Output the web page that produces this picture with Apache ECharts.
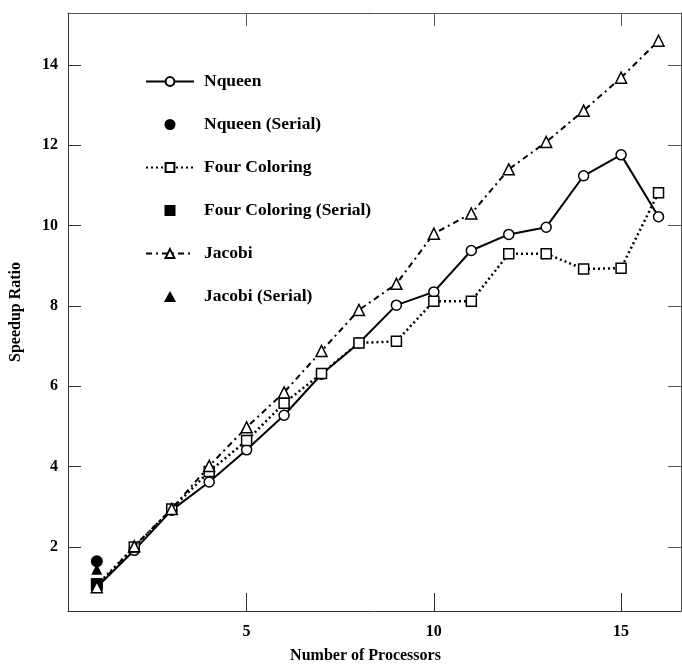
<!DOCTYPE html>
<html>
<head>
<meta charset="utf-8">
<script src="https://cdn.jsdelivr.net/npm/echarts@6/dist/echarts.min.js"></script>
<style>
  html, body { margin: 0; padding: 0; background: #fff; }
  #main { width: 682px; height: 664px; }
</style>
</head>
<body>
<div id="main"></div>
<script>
// processors on x, speedup on y
const processors = [1, 2, 3, 4, 5, 6, 7, 8, 9, 10, 11, 12, 13, 14, 15, 16];
const nqueen = [1.0, 1.92, 2.92, 3.62, 4.42, 5.28, 6.3, 7.08, 8.02, 8.35, 9.38, 9.78, 9.96, 11.24, 11.76, 10.22];
const fourColoring = [1.05, 2.0, 2.95, 3.88, 4.65, 5.58, 6.32, 7.08, 7.12, 8.12, 8.12, 9.3, 9.3, 8.92, 8.94, 10.82];
const jacobi = [1.0, 2.02, 2.95, 4.02, 4.98, 5.85, 6.88, 7.9, 8.55, 9.8, 10.3, 11.4, 12.08, 12.86, 13.68, 14.6];
const nqueenSerial = [[1, 1.65]];
const fourColoringSerial = [[1, 1.08]];
const jacobiSerial = [[1, 1.45]];
const xTicks = [5, 10, 15];
const yTicks = [2, 4, 6, 8, 10, 12, 14];

const font = 'Liberation Serif';
const pairs = ys => processors.map((x, i) => [x, ys[i]]);

// keep-aspect icons for the legend (plain 'rect'/'triangle' stretch to itemWidth)
const squareIcon = 'path://M0,0H10V10H0Z';
const triangleIcon = 'path://M5,0L10,9L0,9Z';

const chart = echarts.init(document.getElementById('main'));

const openItem = { color: '#fff', borderColor: '#000', borderWidth: 1.5, opacity: 1 };
const axisFont = { fontFamily: font, fontWeight: 'bold', fontSize: 16, color: '#000' };

const option = {
  animation: false,
  grid: { left: 68, top: 13, right: 1, bottom: 53, outerBoundsMode: 'none' },
  legend: {
    orient: 'vertical',
    left: 145,
    top: 72.5,
    padding: 0,
    itemWidth: 48,
    itemHeight: 11,
    itemGap: 25,
    data: [
      { name: 'Nqueen' },
      { name: 'Nqueen (Serial)', icon: 'circle' },
      { name: 'Four Coloring' },
      { name: 'Four Coloring (Serial)', icon: squareIcon },
      { name: 'Jacobi' },
      { name: 'Jacobi (Serial)', icon: triangleIcon }
    ],
    textStyle: { fontFamily: font, fontWeight: 'bold', fontSize: 17.5, lineHeight: 17, color: '#000', padding: [0, 0, 0, 5] }
  },
  xAxis: [{
    type: 'value', min: 0.23, max: 16.6,
    name: 'Number of Processors', nameLocation: 'middle', nameGap: 37,
    nameTextStyle: Object.assign({ padding: [0, 18, 0, 0] }, axisFont),
    axisLine: { lineStyle: { color: '#333', width: 1 } },
    axisTick: { inside: true, length: 18, customValues: xTicks, lineStyle: { color: '#333' } },
    axisLabel: Object.assign({ customValues: xTicks, margin: 13 }, axisFont),
    splitLine: { show: false }
  }, {
    type: 'value', position: 'top', min: 0.23, max: 16.6,
    axisLine: { lineStyle: { color: '#555', width: 1 } },
    axisTick: { inside: true, length: 13, customValues: xTicks, lineStyle: { color: '#555' } },
    axisLabel: { show: false },
    splitLine: { show: false }
  }],
  yAxis: [{
    type: 'value', min: 0.41, max: 15.29,
    name: 'Speedup Ratio', nameLocation: 'middle', nameGap: 44, nameRotate: 90,
    nameTextStyle: axisFont,
    axisLine: { lineStyle: { color: '#333', width: 1 } },
    axisTick: { inside: true, length: 13, customValues: yTicks, lineStyle: { color: '#333' } },
    axisLabel: Object.assign({ customValues: yTicks, margin: 10 }, axisFont),
    splitLine: { show: false }
  }, {
    type: 'value', position: 'right', min: 0.41, max: 15.29,
    axisLine: { show: true, lineStyle: { color: '#555', width: 1 } },
    axisTick: { show: true, inside: true, length: 13, customValues: yTicks, lineStyle: { color: '#555' } },
    axisLabel: { show: false },
    splitLine: { show: false }
  }],
  series: [
    {
      name: 'Nqueen', type: 'line', z: 2,
      symbol: 'circle', symbolSize: 10, showAllSymbol: true,
      lineStyle: { color: '#000', width: 2 },
      itemStyle: openItem,
      data: pairs(nqueen)
    },
    {
      name: 'Four Coloring', type: 'line', z: 3,
      symbol: 'rect', symbolSize: 10, showAllSymbol: true,
      lineStyle: { color: '#000', width: 2.5, type: [2, 3] },
      itemStyle: openItem,
      data: pairs(fourColoring)
    },
    {
      name: 'Four Coloring (Serial)', type: 'scatter', z: 4,
      symbol: 'rect', symbolSize: 12,
      itemStyle: { color: '#000', opacity: 1 },
      data: fourColoringSerial
    },
    {
      name: 'Nqueen (Serial)', type: 'scatter', z: 4,
      symbol: 'circle', symbolSize: 12,
      itemStyle: { color: '#000', opacity: 1 },
      data: nqueenSerial
    },
    {
      name: 'Jacobi (Serial)', type: 'scatter', z: 4,
      symbol: 'triangle', symbolSize: 11,
      itemStyle: { color: '#000', opacity: 1 },
      data: jacobiSerial
    },
    {
      name: 'Jacobi', type: 'line', z: 5,
      symbol: 'triangle', symbolSize: 11, showAllSymbol: true,
      lineStyle: { color: '#000', width: 2, type: [6, 4, 2, 4] },
      itemStyle: openItem,
      data: pairs(jacobi)
    }
  ]
};

chart.setOption(option);
</script>
</body>
</html>
